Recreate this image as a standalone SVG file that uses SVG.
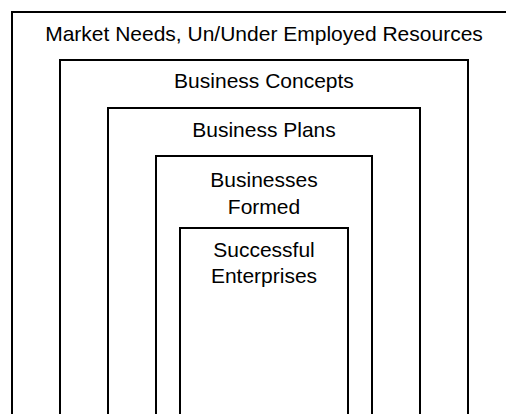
<svg xmlns="http://www.w3.org/2000/svg" width="506" height="414" viewBox="0 0 506 414">
  <style>
    .box { fill: none; stroke: #000; stroke-width: 2; }
    .lbl { font-family: "Liberation Sans", Arial, sans-serif; font-size: 21px; fill: #000; text-anchor: middle; }
  </style>
  <rect width="506" height="414" fill="#fff"/>
  <!-- nested stages, each box open past the bottom edge -->
  <g id="market-needs">
    <rect class="box" x="12" y="12" width="504" height="430"/>
    <text class="lbl" x="264" y="40.5">Market Needs, Un/Under Employed Resources</text>
  </g>
  <g id="business-concepts">
    <rect class="box" x="60" y="60" width="408" height="380"/>
    <text class="lbl" x="264" y="88">Business Concepts</text>
  </g>
  <g id="business-plans">
    <rect class="box" x="108" y="108" width="312" height="330"/>
    <text class="lbl" x="264" y="136.5">Business Plans</text>
  </g>
  <g id="businesses-formed">
    <rect class="box" x="156" y="156" width="216" height="280"/>
    <text class="lbl" x="264" y="186.5">Businesses</text>
    <text class="lbl" x="264" y="214">Formed</text>
  </g>
  <g id="successful-enterprises">
    <rect class="box" x="180" y="228" width="168" height="210"/>
    <text class="lbl" x="264" y="256.7">Successful</text>
    <text class="lbl" x="264" y="283.3">Enterprises</text>
  </g>
</svg>
